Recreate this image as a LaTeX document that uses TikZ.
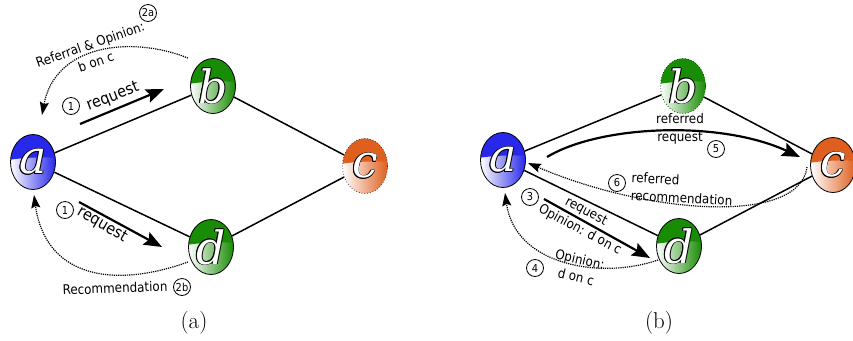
\documentclass[tikz,border=0pt]{standalone}
\usepackage{fontspec}
\newfontfamily\lblfont{DejaVu Sans}[FakeStretch=0.9]
\newfontfamily\letfont{DejaVu Serif}
\usetikzlibrary{shapes.geometric,arrows.meta}
\definecolor{cblue}{RGB}{40,40,235}
\definecolor{cgreen}{RGB}{25,140,5}
\definecolor{corange}{RGB}{222,95,30}
\newcommand\olay[2]{\rlap{\kern#1\raise#2\copy0}}
\newcommand\olet[1]{\setbox0\hbox{\letfont\itshape\fontsize{46}{46}\selectfont #1}%
{\color{black}\olay{.8bp}{0bp}\olay{-.8bp}{0bp}\olay{0bp}{.8bp}\olay{0bp}{-.8bp}\olay{.57bp}{.57bp}\olay{-.57bp}{.57bp}\olay{.57bp}{-.57bp}\olay{-.57bp}{-.57bp}}%
{\color{white}\copy0}}
\tikzset{
  gnode/.style={ellipse, minimum width=45bp, minimum height=55bp, inner sep=0pt,
    line width=0.8bp, draw=black,
    path picture={
      \shade[left color=white, right color=#1]
        (path picture bounding box.south west) rectangle (path picture bounding box.north east);
      \fill[#1] ([shift={(-30bp,1bp)}]path picture bounding box.center)
        .. controls ([shift={(-10bp,5bp)}]path picture bounding box.center)
        and ([shift={(10bp,5bp)}]path picture bounding box.center)
        .. ([shift={(30bp,4bp)}]path picture bounding box.center)
        -- ([shift={(30bp,40bp)}]path picture bounding box.center)
        -- ([shift={(-30bp,40bp)}]path picture bounding box.center) -- cycle;
    }},
  netedge/.style={line width=1.5bp, black},
  bigarrow/.style={line width=2.2bp, -{Stealth[length=18bp,width=14bp,inset=3bp]}},
  dotarrow/.style={line width=1.2bp, densely dotted, -{Stealth[length=13bp,width=9bp,inset=2bp]}},
  lbl/.style={font=\lblfont\fontsize{13.3}{18}\selectfont, align=center, inner sep=0pt},
  lblbig/.style={font=\lblfont\fontsize{16}{18}\selectfont, inner sep=0pt},
  num/.style={circle, draw, line width=0.8bp, minimum size=17bp, inner sep=0pt,
    font=\lblfont\fontsize{11}{11}\selectfont},
  captxt/.style={font=\fontsize{23}{26}\selectfont, inner sep=0pt}
}
\begin{document}
\begin{tikzpicture}[x=1bp,y=-1bp]
\useasboundingbox (0,0) rectangle (853,340);
% ---------- (a) ----------
\node[gnode=cblue] (a1) at (33,162) {\olet{a}};
\node[gnode=cgreen] (b1) at (213,86) {\olet{b}};
\node[gnode=corange, draw=black!75, dotted] (c1) at (365,166) {\olet{c}};
\node[gnode=cgreen] (d1) at (211,247) {\olet{d}};
\draw[netedge] (a1) -- (b1);
\draw[netedge] (b1) -- (c1);
\draw[netedge] (a1) -- (d1);
\draw[netedge] (d1) -- (c1);
\coordinate (r1s) at (80,124);
\coordinate (r1e) at (164,89);
\draw[bigarrow] (r1s) -- (r1e);
\node[lblbig, rotate=21] (t1) at (113,97) {request};
\node[num] (n1) at (71,106) {1};
\coordinate (r2s) at (79,202);
\coordinate (r2e) at (162,247);
\draw[bigarrow] (r2s) -- (r2e);
\node[lblbig, rotate=-30] (t2) at (102,225) {request};
\node[num] (n2) at (65,210) {1};
\coordinate (s3) at (188,58);
\coordinate (e3) at (42,115);
\draw[dotarrow] (s3) .. controls (130,35) and (55,45) .. (e3);
\node[lbl, rotate=19] (t3) at (93,53) {Referral \& Opinion:\\b on c};
\node[num] (n3) at (148,13) {2a};
\coordinate (s4) at (188,262);
\coordinate (e4) at (34,195);
\draw[dotarrow] (s4) .. controls (110,290) and (45,275) .. (e4);
\node[lbl, rotate=2] (t4) at (115,288) {Recommendation};
\node[num] (n4) at (182,287) {2b};
\node[captxt] (capa) at (194,323) {(a)};
% ---------- (b) ----------
\node[gnode=cblue] (a2) at (503,160) {\olet{a}};
\node[gnode=cgreen, draw=cgreen!50!black, dotted] (b2) at (683,86) {\olet{b}};
\node[gnode=corange] (c2) at (833,165) {\olet{c}};
\node[gnode=cgreen] (d2) at (679,246) {\olet{d}};
\draw[netedge] (a2) -- (b2);
\draw[netedge] (b2) -- (c2);
\draw[netedge] (a2) -- (d2);
\draw[netedge] (d2) -- (c2);
\coordinate (s5) at (547,157);
\coordinate (e5) at (800,157);
\draw[bigarrow] (s5) .. controls (600,125) and (720,120) .. (e5);
\node[lbl] (t5) at (680,129) {referred\\request};
\node[num] (n5) at (716,149) {5};
\coordinate (s6) at (807,167);
\coordinate (e6) at (528,163);
\draw[dotarrow] (s6) .. controls (800,225) and (650,215) .. (e6);
\node[lbl, align=left, rotate=-3] (t6) at (682,189) {referred\\recommendation};
\node[num] (n6) at (617,183) {6};
\coordinate (s7) at (544,199);
\coordinate (e7) at (650,258);
\draw[bigarrow] (s7) -- (e7);
\node[lbl, rotate=-28] (t7) at (586,212) {request};
\node[lbl, rotate=-28] (t8) at (580,230) {Opinion: d on c};
\node[num] (n7) at (530,197) {3};
\coordinate (s8) at (658,260);
\coordinate (e8) at (505,193);
\draw[dotarrow] (s8) .. controls (600,280) and (515,265) .. (e8);
\node[lbl, rotate=-13] (t9) at (578,268) {Opinion:\\d on c};
\node[num] (n8) at (535,268) {4};
\node[captxt] (capb) at (659,323) {(b)};
\end{tikzpicture}
\end{document}
